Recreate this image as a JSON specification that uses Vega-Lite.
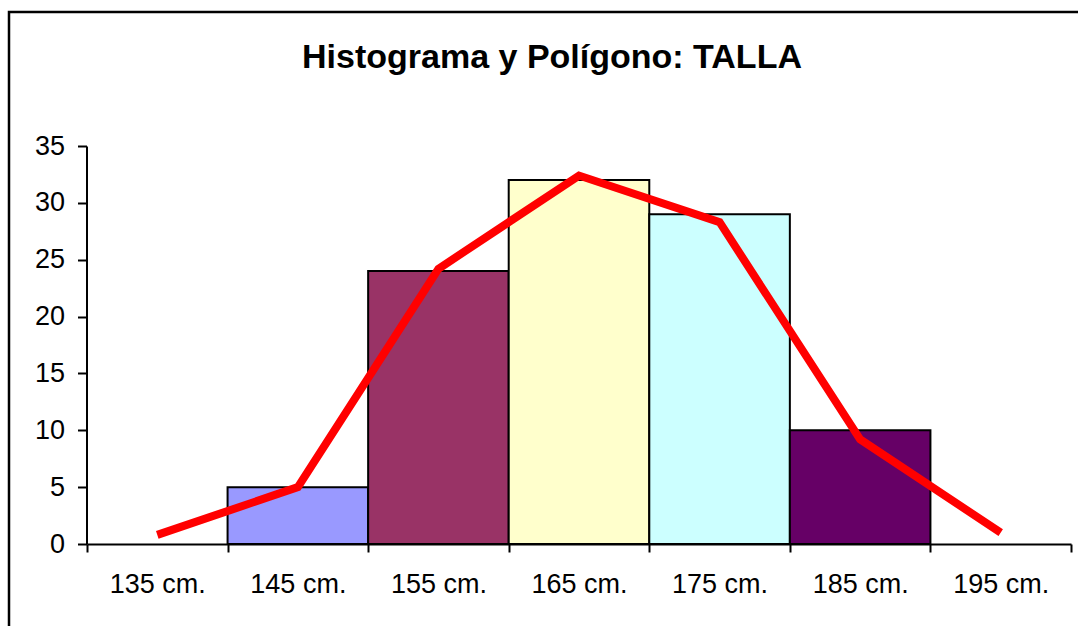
{
  "$schema": "https://vega.github.io/schema/vega-lite/v6.json",
  "width": 1074,
  "height": 618,
  "autosize": {"type": "none"},
  "padding": {"left": 9, "top": 12, "right": 0, "bottom": 0},
  "background": "white",
  "config": {
    "view": {"stroke": "black", "strokeWidth": 2.5},
    "font": "Liberation Sans",
    "axis": {
      "domainColor": "black",
      "domainWidth": 2,
      "tickColor": "black",
      "tickWidth": 2,
      "labelColor": "black",
      "labelFont": "Liberation Sans",
      "labelFontSize": 27,
      "grid": false,
      "title": null
    }
  },
  "title": {
    "text": "Histograma y Polígono: TALLA",
    "font": "Liberation Sans",
    "fontSize": 34,
    "fontWeight": "bold",
    "color": "black",
    "anchor": "middle",
    "baseline": "alphabetic",
    "offset": -57,
    "dy": 33,
    "dx": 6
  },
  "datasets": {
    "barras": [
      {"talla": "145 cm.", "frecuencia": 5},
      {"talla": "155 cm.", "frecuencia": 24},
      {"talla": "165 cm.", "frecuencia": 32},
      {"talla": "175 cm.", "frecuencia": 29},
      {"talla": "185 cm.", "frecuencia": 10}
    ],
    "poligono": [
      {"talla": "135 cm.", "frecuencia": 0.8},
      {"talla": "145 cm.", "frecuencia": 5},
      {"talla": "155 cm.", "frecuencia": 24.2},
      {"talla": "165 cm.", "frecuencia": 32.4},
      {"talla": "175 cm.", "frecuencia": 28.3},
      {"talla": "185 cm.", "frecuencia": 9.2},
      {"talla": "195 cm.", "frecuencia": 1.0}
    ]
  },
  "layer": [
    {
      "data": {"name": "barras"},
      "mark": {"type": "bar", "stroke": "black", "strokeWidth": 2},
      "encoding": {
        "x": {
          "field": "talla",
          "type": "nominal",
          "sort": null,
          "scale": {
            "domain": ["135 cm.", "145 cm.", "155 cm.", "165 cm.", "175 cm.", "185 cm.", "195 cm."],
            "range": [78, 1062],
            "paddingInner": 0,
            "paddingOuter": 0
          },
          "axis": {
            "orient": "bottom",
            "offset": -86,
            "tickSize": 8,
            "tickBand": "extent",
            "labelAngle": 0,
            "labelPadding": 19
          }
        },
        "y": {
          "field": "frecuencia",
          "type": "quantitative",
          "scale": {"domain": [0, 35], "range": [532, 134], "nice": false, "zero": true},
          "axis": {
            "orient": "left",
            "offset": -77.5,
            "values": [0, 5, 10, 15, 20, 25, 30, 35],
            "tickSize": 9,
            "labelPadding": 13
          }
        },
        "color": {
          "field": "talla",
          "type": "nominal",
          "scale": {
            "domain": ["145 cm.", "155 cm.", "165 cm.", "175 cm.", "185 cm."],
            "range": ["#9999FF", "#993366", "#FFFFCC", "#CCFFFF", "#660066"]
          },
          "legend": null
        }
      }
    },
    {
      "data": {"name": "poligono"},
      "mark": {"type": "line", "color": "#FF0000", "strokeWidth": 8, "strokeJoin": "miter", "strokeCap": "butt"},
      "encoding": {
        "x": {"field": "talla", "type": "nominal", "sort": null},
        "y": {"field": "frecuencia", "type": "quantitative"}
      }
    }
  ]
}
